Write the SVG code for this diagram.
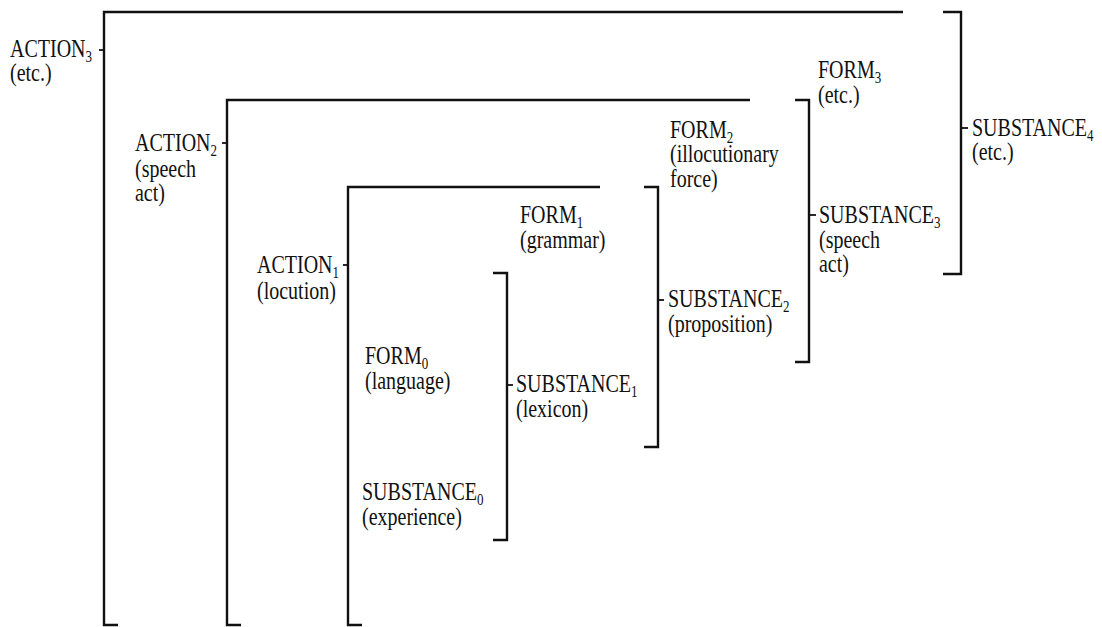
<svg xmlns="http://www.w3.org/2000/svg" width="1102" height="627" viewBox="0 0 1102 627">
  <style>
    .ln { stroke: #111; stroke-width: 2.4; fill: none; stroke-linecap: butt; }
    .tk { stroke: #111; stroke-width: 1.8; fill: none; }
    text { font-family: "Liberation Serif", "Times New Roman", serif; font-size: 20px; fill: #111; }
    .sub { font-size: 13px; }
  </style>
  <rect width="1102" height="627" fill="#fff"/>

  <!-- nested brackets and label ticks -->
  <g id="connectors">
    <!-- level 3 (outer) -->
    <polyline class="ln" points="903,12 104,12 104,625 118,625"/>
    <line class="tk" x1="99" y1="50" x2="104" y2="50"/>
    <polyline class="ln" points="943,12 961,12 961,274 943,274"/>
    <line class="tk" x1="961" y1="128" x2="968" y2="128"/>
    <!-- level 2 -->
    <polyline class="ln" points="750,100 227,100 227,625 241,625"/>
    <line class="tk" x1="222" y1="143" x2="227" y2="143"/>
    <polyline class="ln" points="795,100 809,100 809,362 795,362"/>
    <line class="tk" x1="809" y1="215" x2="816" y2="215"/>
    <!-- level 1 -->
    <polyline class="ln" points="600,187 348,187 348,625 362,625"/>
    <line class="tk" x1="343" y1="265" x2="348" y2="265"/>
    <polyline class="ln" points="644,187 658,187 658,447 644,447"/>
    <line class="tk" x1="658" y1="300" x2="664" y2="300"/>
    <!-- level 0 -->
    <polyline class="ln" points="493,273 507,273 507,540 493,540"/>
    <line class="tk" x1="507" y1="385" x2="513" y2="385"/>
  </g>

  <!-- labels: a tall, narrow serif (vertical stretch) -->
  <g id="action3">
    <text transform="translate(10 57) scale(1 1.22)">ACTION<tspan class="sub" dy="4">3</tspan></text>
    <text transform="translate(10 81) scale(1 1.22)">(etc.)</text>
  </g>
  <g id="form3">
    <text transform="translate(818 78) scale(1 1.22)">FORM<tspan class="sub" dy="4">3</tspan></text>
    <text transform="translate(818 103) scale(1 1.22)">(etc.)</text>
  </g>
  <g id="substance4">
    <text transform="translate(972 136) scale(1 1.22)">SUBSTANCE<tspan class="sub" dy="4">4</tspan></text>
    <text transform="translate(972 160) scale(1 1.22)">(etc.)</text>
  </g>

  <g id="action2">
    <text transform="translate(135 151) scale(1 1.22)">ACTION<tspan class="sub" dy="4">2</tspan></text>
    <text transform="translate(135 177) scale(1 1.22)">(speech</text>
    <text transform="translate(135 201) scale(1 1.22)">act)</text>
  </g>
  <g id="form2">
    <text transform="translate(670 138) scale(1 1.22)">FORM<tspan class="sub" dy="4">2</tspan></text>
    <text transform="translate(670 162) scale(1 1.22)">(illocutionary</text>
    <text transform="translate(670 187) scale(1 1.22)">force)</text>
  </g>
  <g id="substance3">
    <text transform="translate(819 223) scale(1 1.22)">SUBSTANCE<tspan class="sub" dy="4">3</tspan></text>
    <text transform="translate(819 248) scale(1 1.22)">(speech</text>
    <text transform="translate(819 272) scale(1 1.22)">act)</text>
  </g>

  <g id="action1">
    <text transform="translate(257 273) scale(1 1.22)">ACTION<tspan class="sub" dy="4">1</tspan></text>
    <text transform="translate(257 299) scale(1 1.22)">(locution)</text>
  </g>
  <g id="form1">
    <text transform="translate(520 223) scale(1 1.22)">FORM<tspan class="sub" dy="4">1</tspan></text>
    <text transform="translate(520 248) scale(1 1.22)">(grammar)</text>
  </g>
  <g id="substance2">
    <text transform="translate(668 307) scale(1 1.22)">SUBSTANCE<tspan class="sub" dy="4">2</tspan></text>
    <text transform="translate(668 332) scale(1 1.22)">(proposition)</text>
  </g>

  <g id="form0">
    <text transform="translate(365 364) scale(1 1.22)">FORM<tspan class="sub" dy="4">0</tspan></text>
    <text transform="translate(365 389) scale(1 1.22)">(language)</text>
  </g>
  <g id="substance1">
    <text transform="translate(516 392) scale(1 1.22)">SUBSTANCE<tspan class="sub" dy="4">1</tspan></text>
    <text transform="translate(516 417) scale(1 1.22)">(lexicon)</text>
  </g>
  <g id="substance0">
    <text transform="translate(362 500) scale(1 1.22)">SUBSTANCE<tspan class="sub" dy="4">0</tspan></text>
    <text transform="translate(362 525) scale(1 1.22)">(experience)</text>
  </g>
</svg>
